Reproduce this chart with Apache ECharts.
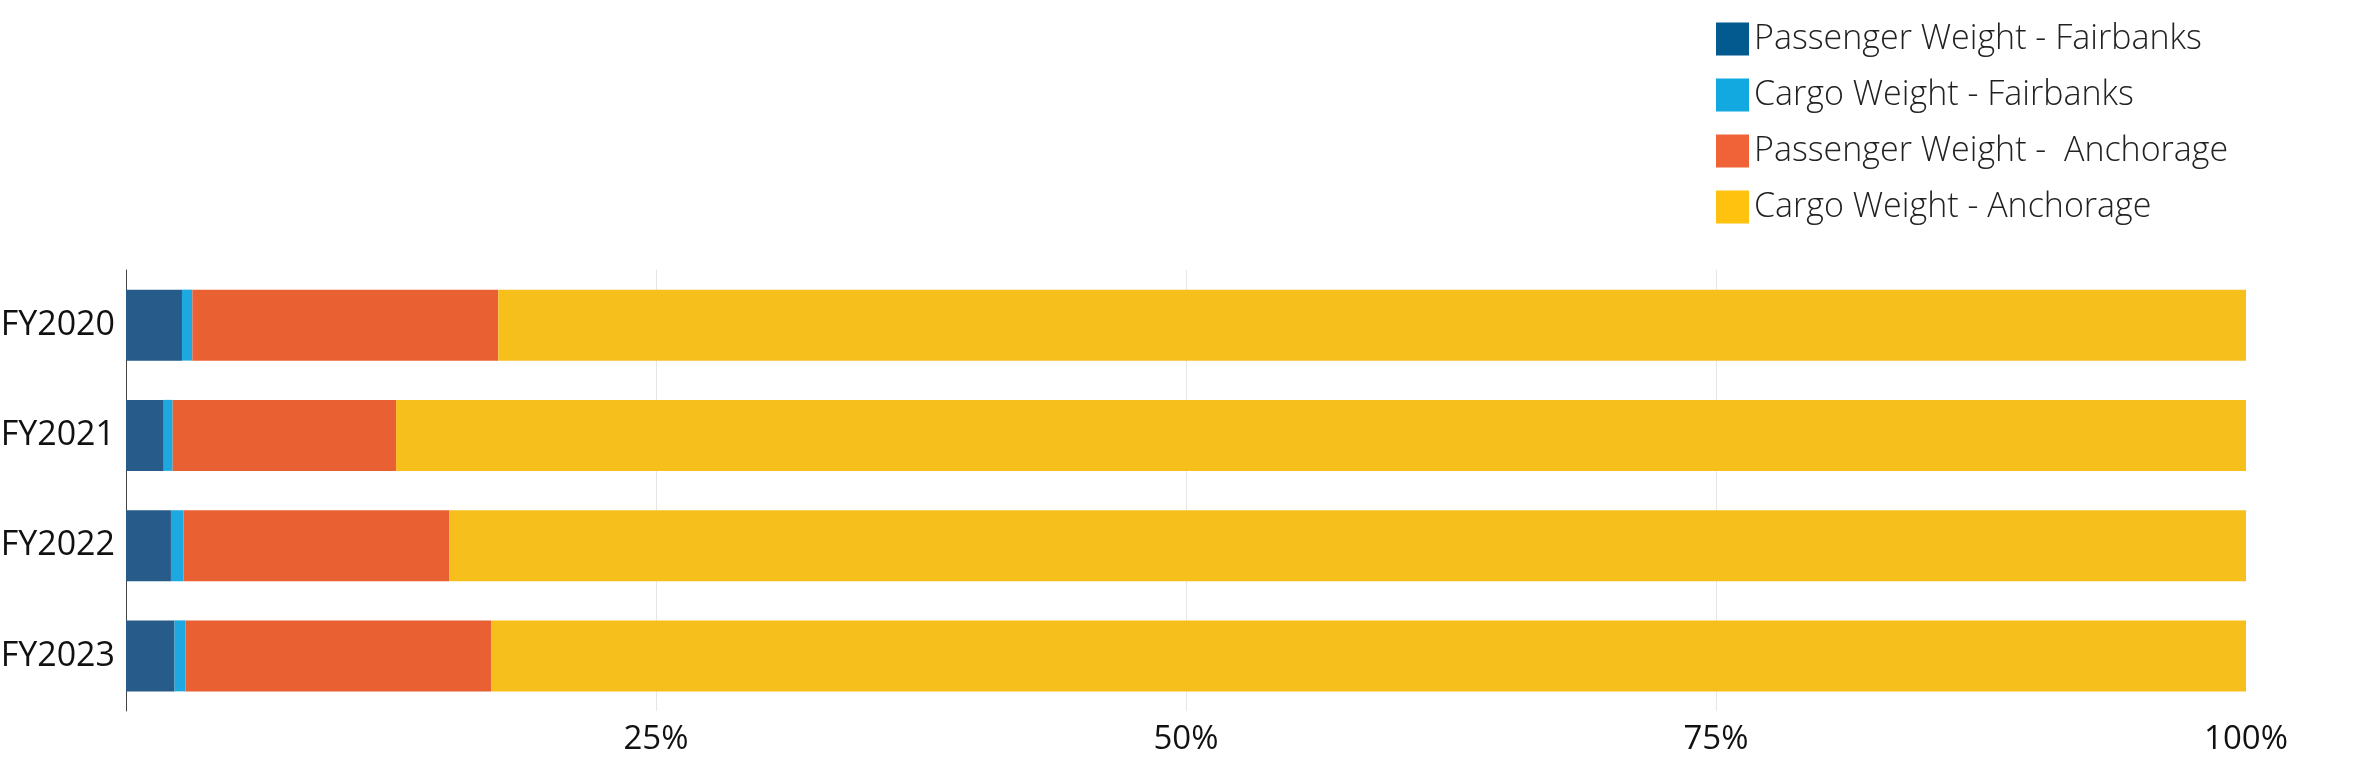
<!DOCTYPE html>
<html>
<head>
<meta charset="utf-8">
<script src="https://cdn.jsdelivr.net/npm/echarts@6/dist/echarts.min.js"></script>
<style>html,body{margin:0;padding:0;background:#fff}#c{width:2376px;height:769px}</style>
</head>
<body>
<div id="c"></div>
<script>
const categories = ['FY2020', 'FY2021', 'FY2022', 'FY2023'];
const seriesNames = ['Passenger Weight - Fairbanks', 'Cargo Weight - Fairbanks', 'Passenger Weight -  Anchorage', 'Cargo Weight - Anchorage'];
const passengerFairbanks = [2.64, 1.78, 2.12, 2.29];
const cargoFairbanks = [0.49, 0.42, 0.59, 0.51];
const passengerAnchorage = [14.43, 10.54, 12.53, 14.42];
const cargoAnchorage = [82.44, 87.26, 84.76, 82.78];
const tickValues = [0, 25, 50, 75, 100];

const barColors = ['#265b8a', '#1ea8e0', '#e96133', '#f6bf1c'];
const legendColors = ['#035a8f', '#12a9e0', '#f06237', '#ffc20e'];
const values = [passengerFairbanks, cargoFairbanks, passengerAnchorage, cargoAnchorage];

const chart = echarts.init(document.getElementById('c'));
chart.setOption({
  animation: false,
  textStyle: { fontFamily: 'Open Sans' },
  legend: {
    orient: 'vertical',
    left: 1711,
    top: 17,
    itemWidth: 33,
    itemHeight: 33,
    itemGap: 22,
    icon: 'rect',
    textStyle: { fontSize: 34, color: '#222', fontWeight: 300, fontFamily: 'Open Sans', padding: [0, 0, 0, 0] },
    data: seriesNames.map((n, i) => ({ name: n, itemStyle: { color: legendColors[i] } }))
  },
  grid: { left: 126, right: 130, top: 270, bottom: 58, containLabel: false, outerBoundsMode: 'none' },
  xAxis: {
    type: 'value',
    min: 0,
    max: 100,
    interval: 25,
    axisLine: { show: false },
    axisTick: { show: false },
    axisLabel: {
      fontSize: 33, color: '#111', margin: 12,
      formatter: v => (tickValues.includes(v) && v !== 0) ? v + '%' : ''
    },
    splitLine: { show: true, showMinLine: false, showMaxLine: false, lineStyle: { color: '#e6e6e6', width: 1 } }
  },
  yAxis: {
    type: 'category',
    data: categories,
    inverse: true,
    axisLine: { show: true, lineStyle: { color: '#444', width: 1 } },
    axisTick: { show: false },
    axisLabel: { fontSize: 34, color: '#111', margin: 11 }
  },
  series: seriesNames.map((n, i) => ({
    name: n,
    type: 'bar',
    stack: 'total',
    barWidth: 71,
    itemStyle: { color: barColors[i] },
    data: values[i]
  }))
});
</script>
</body>
</html>
